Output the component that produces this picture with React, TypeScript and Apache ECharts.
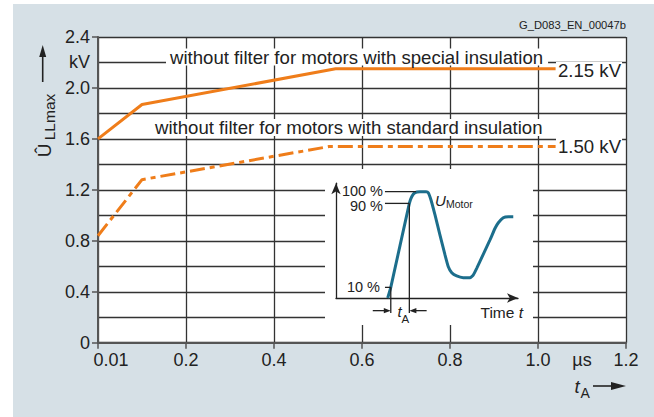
import React, { useEffect, useRef } from "react";
import * as echarts from "echarts";

const FONT = "'Liberation Sans', Arial, Helvetica, sans-serif";
const ORANGE = "#ef7d1a";
const TEAL = "#1c6e8c";
const INK = "#222222";
const GRID_INK = "#333333";
const PANEL = "#d6e0e6";

// Main chart: t_A in µs, peak line voltage in kV
const specialT = [0, 0.1, 0.54, 1.04];
const specialU = [1.6, 1.87, 2.15, 2.15];
const standardT = [0, 0.1, 0.525, 1.04];
const standardU = [0.84, 1.28, 1.54, 1.54];

const xTickValues = [0, 0.2, 0.4, 0.6, 0.8, 1.0, 1.2];
const xTickLabels = ["{f|0.01}", "0.2", "0.4", "0.6", "0.8", "1.0", "1.2"];
const yTickValues = [0, 0.4, 0.8, 1.2, 1.6, 2.0, 2.4];
const yTickLabels = ["0", "0.4", "0.8", "1.2", "1.6", "2.0", "2.4"];
const xUnitValues = [1.1];
const xUnitLabels = ["µs"];
const yUnitValues = [2.2];
const yUnitLabels = ["kV"];

const curveTexts = [
  "without filter for motors with special insulation",
  "without filter for motors with standard insulation",
];
const endTexts = ["2.15 kV", "1.50 kV"];
const codeText = "G_D083_EN_00047b";

// Inset: motor voltage (% of peak) over relative time
const insetT = [28.4, 30.1, 40.3, 41.6, 43.4, 46.2, 49.5, 50.7, 52.2, 54.4, 57.1, 59.9, 61.7, 63.6, 66.3, 69.9, 73.6, 75.4, 77.3, 80.9, 84.6, 87.4, 89.2, 91.9, 94.7, 97.4];
const insetU = [0, 10, 89, 95.3, 99.1, 100, 100, 99.1, 92.2, 78.1, 59.3, 40.5, 29.4, 23.8, 20.7, 19.1, 19.1, 21.6, 27.9, 41.1, 54.6, 65.6, 70.8, 75.5, 76.5, 76.5];
const insetLevels = [100, 90, 10];
const insetLevelLabels = ["{u|100 %}", "{d|90 %}", "{n|10 %}"];
const leaderLevels = [100, 89, 10];
const leaderStart = 26.9;
const leaderEnd = [44, 40.3, 30.1];
const t10 = 30.1;
const t90 = 40.3;
const dimLevel = -11.9;
const dropLevel = -14.1;
const dimArrowFrom = [20.2, 49.8];

const near = (a: number, b: number) => Math.abs(a - b) < 1e-6;
const fmtFrom = (vals: number[], labels: string[]) => (v: number) => {
  const i = vals.findIndex((x) => near(x, v));
  return i >= 0 ? labels[i] : "";
};

function arrowHead(tip: number[], dir: number[], len: number, half: number, z: number) {
  const [tx, ty] = tip;
  const [dx, dy] = dir;
  const bx = tx - dx * len;
  const by = ty - dy * len;
  const nx = -dy;
  const ny = dx;
  return {
    type: "polygon",
    z,
    shape: { points: [[tx, ty], [bx + nx * half, by + ny * half], [bx - nx * half, by - ny * half]] },
    style: { fill: INK },
  };
}

function line(x1: number, y1: number, x2: number, y2: number, z: number, w = 1.3) {
  return { type: "line", z, shape: { x1, y1, x2, y2 }, style: { stroke: INK, lineWidth: w } };
}

function txt(x: number, y: number, text: string, size: number, extra: any = {}, z = 6) {
  const { rotation, ...style } = extra;
  return {
    type: "text",
    x,
    y,
    z,
    rotation: rotation || 0,
    style: {
      text,
      fontSize: size,
      fontFamily: FONT,
      fill: INK,
      align: "left",
      verticalAlign: "middle",
      ...style,
    },
  };
}

export default function App() {
  const ref = useRef<HTMLDivElement>(null);

  useEffect(() => {
    const chart = echarts.init(ref.current!, null, { renderer: "svg" });
    const axisFont = { color: INK, fontSize: 18, fontFamily: FONT };
    const insetFont = { color: INK, fontSize: 14.5, fontFamily: FONT, lineHeight: 13 };
    const option: any = {
      animation: false,
      backgroundColor: "transparent",
      grid: [
        { left: 98, right: 28, top: 37, bottom: 74.3, show: true, backgroundColor: "#ffffff", borderWidth: 0 },
        { left: 336, top: 183.2, width: 182, height: 114.8, show: false },
      ],
      xAxis: [
        {
          type: "value", gridIndex: 0, min: 0, max: 1.2, interval: 0.2, position: "bottom",
          axisLine: { show: true, onZero: false, lineStyle: { color: "#555", width: 2 } },
          axisTick: { show: true, length: 6, lineStyle: { color: "#555", width: 1.5 } },
          axisLabel: {
            ...axisFont, margin: 8, formatter: fmtFrom(xTickValues, xTickLabels),
            rich: { f: { ...axisFont, padding: [0, 0, 0, 26] } },
          },
          splitLine: { show: true, lineStyle: { color: GRID_INK, width: 1.3 } },
        },
        {
          type: "value", gridIndex: 0, min: 0, max: 1.2, interval: 0.1, position: "bottom",
          axisLine: { show: false }, axisTick: { show: false }, splitLine: { show: false },
          axisLabel: { ...axisFont, margin: 8, formatter: fmtFrom(xUnitValues, xUnitLabels) },
        },
        {
          type: "value", gridIndex: 1, min: 0, max: 100, z: 5,
          axisLine: { show: true, onZero: false, symbol: ["none", "arrow"], symbolSize: [7, 11], lineStyle: { color: INK, width: 1.3 } },
          axisTick: { show: false }, axisLabel: { show: false }, splitLine: { show: false },
        },
      ],
      yAxis: [
        {
          type: "value", gridIndex: 0, min: 0, max: 2.4, interval: 0.4, position: "left",
          axisLine: { show: true, onZero: false, lineStyle: { color: "#555", width: 2 } },
          axisTick: { show: true, length: 6, lineStyle: { color: "#555", width: 1.5 } },
          axisLabel: { ...axisFont, margin: 8, formatter: fmtFrom(yTickValues, yTickLabels) },
          splitLine: { show: false },
        },
        {
          type: "value", gridIndex: 0, min: 0, max: 2.4, interval: 0.2, position: "left",
          axisLine: { show: false }, axisTick: { show: false },
          axisLabel: { ...axisFont, margin: 8, formatter: fmtFrom(yUnitValues, yUnitLabels) },
          splitLine: { show: true, lineStyle: { color: GRID_INK, width: 1.3 } },
        },
        {
          type: "value", gridIndex: 1, min: 0, max: 108, interval: 10, position: "left", z: 5,
          axisLine: { show: true, onZero: false, symbol: ["none", "arrow"], symbolSize: [7, 11], lineStyle: { color: INK, width: 1.3 } },
          axisTick: { show: false }, splitLine: { show: false },
          axisLabel: {
            inside: true, align: "right", margin: 47, ...insetFont,
            formatter: fmtFrom(insetLevels, insetLevelLabels),
            rich: {
              u: { ...insetFont, padding: [0, 0, 2, 0] },
              d: { ...insetFont, padding: [7, 0, 0, 0] },
              n: { ...insetFont, padding: [0, 3, 0, 0] },
            },
          },
        },
      ],
      series: [
        {
          type: "line", xAxisIndex: 0, yAxisIndex: 0, symbol: "none", z: 2,
          data: specialT.map((t, i) => [t, specialU[i]]),
          lineStyle: { color: ORANGE, width: 3 },
        },
        {
          type: "line", xAxisIndex: 0, yAxisIndex: 0, symbol: "none", z: 2,
          data: standardT.map((t, i) => [t, standardU[i]]),
          lineStyle: { color: ORANGE, width: 3, type: [15, 5, 5, 5] },
        },
        {
          type: "line", xAxisIndex: 2, yAxisIndex: 2, symbol: "none", z: 6, smooth: 0.15,
          data: insetT.map((t, i) => [t, insetU[i]]),
          lineStyle: { color: TEAL, width: 3 },
        },
      ],
    };
    chart.setOption(option);

    const P = (x: number, y: number) => chart.convertToPixel({ seriesIndex: 2 }, [x, y]) as number[];
    const Z = 7;
    const ann: any[] = [];
    leaderLevels.forEach((lv, i) => {
      const a = P(leaderStart, lv);
      const b = P(leaderEnd[i], lv);
      ann.push(line(a[0], a[1], b[0], b[1], Z));
    });
    const v10a = P(t10, 10), v10b = P(t10, dropLevel);
    const v90a = P(t90, 89), v90b = P(t90, dropLevel);
    ann.push(line(v10a[0], v10a[1], v10b[0], v10b[1], Z));
    ann.push(line(v90a[0], v90a[1], v90b[0], v90b[1], Z));
    const l0 = P(dimArrowFrom[0], dimLevel), l1 = P(t10, dimLevel);
    const r0 = P(dimArrowFrom[1], dimLevel), r1 = P(t90, dimLevel);
    ann.push(line(l0[0], l0[1], l1[0] - 6, l1[1], Z));
    ann.push(arrowHead(l1, [1, 0], 7, 2.6, Z));
    ann.push(line(r0[0], r0[1], r1[0] + 6, r1[1], Z));
    ann.push(arrowHead(r1, [-1, 0], 7, 2.6, Z));
    const mid = (l1[0] + r1[0]) / 2;
    ann.push(txt(mid + 1.5, l1[1] + 0.8, "t", 15, { align: "right", fontStyle: "italic" }, Z));
    ann.push(txt(mid + 1.5, l1[1] + 8, "A", 11.5, {}, Z));

    const elements: any[] = [
      { type: "rect", z: 3, shape: { x: 325, y: 169, width: 208, height: 156 }, style: { fill: "#ffffff" } },
      txt(166, 57, curveTexts[0], 18.6, { backgroundColor: "#ffffff", padding: [0, 5, 0, 4], lineHeight: 17 }, 3),
      txt(151, 127.6, curveTexts[1], 18.6, { backgroundColor: "#ffffff", padding: [0, 5, 0, 4], lineHeight: 17 }, 3),
      txt(556, 70.9, endTexts[0], 18.6, { backgroundColor: "#ffffff", padding: [0, 1, 0, 2], lineHeight: 18 }, 3),
      txt(556, 146.3, endTexts[1], 18.6, { backgroundColor: "#ffffff", padding: [0, 1, 0, 2], lineHeight: 18 }, 3),
      txt(626, 25, codeText, 11.2, { align: "right" }),
      // y axis title
      txt(44.4, 150.5, "Û", 19, { align: "center", rotation: Math.PI / 2 }),
      txt(49.3, 117, "LLmax", 15.5, { align: "center", rotation: Math.PI / 2 }),
      line(42.7, 82, 42.7, 55, 6, 1.6),
      arrowHead([42.7, 45], [0, -1], 12, 3.5, 6),
      // x axis title
      txt(574.5, 386.6, "t", 18.6, { fontStyle: "italic" }),
      txt(580.5, 392.8, "A", 14),
      line(593, 386, 613, 386, 6, 1.6),
      arrowHead([626, 386], [1, 0], 15, 4, 6),
      // inset texts
      txt(435, 200.8, "U", 15, { fontStyle: "italic" }, Z),
      txt(446, 203.9, "Motor", 10.5, {}, Z),
      {
        type: "text", x: 523, y: 312.6, z: Z,
        style: {
          text: "{a|Time }{b|t}", align: "right", verticalAlign: "middle",
          rich: {
            a: { fontSize: 15.5, fontFamily: FONT, fill: INK },
            b: { fontSize: 15.5, fontFamily: FONT, fill: INK, fontStyle: "italic" },
          },
        },
      },
      ...ann,
    ];
    chart.setOption({ graphic: { elements } });
    return () => chart.dispose();
  }, []);

  return (
    <div style={{ position: "absolute", left: 0, top: 0, width: 654, height: 417, background: "#ffffff" }}>
      <div style={{ position: "absolute", left: 13, top: 4, width: 641, height: 413, background: PANEL }} />
      <div ref={ref} style={{ position: "absolute", left: 0, top: 0, width: 654, height: 417 }} />
    </div>
  );
}
